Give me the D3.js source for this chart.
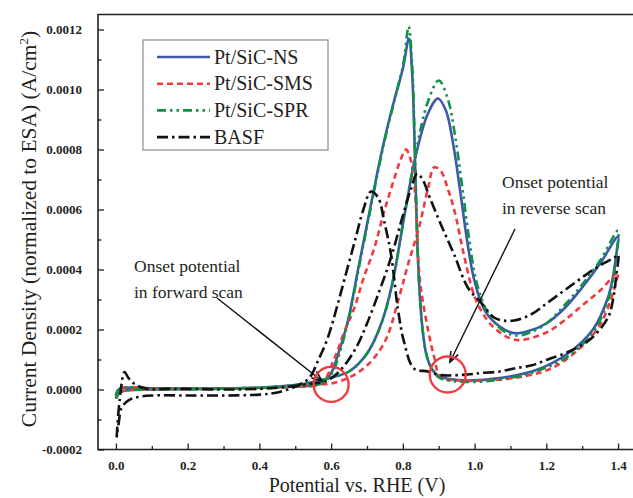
<!DOCTYPE html>
<html>
<head>
<meta charset="utf-8">
<script src="https://cdn.jsdelivr.net/npm/d3@7"></script>
<style>
  body { margin: 0; background: #fff; }
</style>
</head>
<body>
<svg id="chart" width="633" height="498"></svg>
<script>
// cyclic voltammograms, forward scan (0 -> 1.4 V) then reverse scan (1.4 -> 0 V)
const seriesNames = ['Pt/SiC-NS', 'Pt/SiC-SMS', 'Pt/SiC-SPR', 'BASF'];

const nsForwardE = [0.0, 0.01, 0.1, 0.2, 0.3, 0.4, 0.45, 0.5, 0.55, 0.6, 0.65, 0.7, 0.74, 0.77, 0.8, 0.836, 0.87, 0.898, 0.92, 0.94, 0.96, 0.98, 1.0, 1.03, 1.07, 1.11, 1.15, 1.2, 1.25, 1.3, 1.35, 1.4];
const nsForwardJ = [-0.00002, 0.000002, 0.000004, 0.000003, 0.000003, 0.000006, 0.00001, 0.000015, 0.000025, 0.00004, 0.00006, 0.00012, 0.00022, 0.00035, 0.00055, 0.00078, 0.00092, 0.00097, 0.00093, 0.00082, 0.00066, 0.00049, 0.00036, 0.00026, 0.00021, 0.000188, 0.000195, 0.00022, 0.00027, 0.00034, 0.00042, 0.00051];
const nsReverseE = [1.395, 1.385, 1.37, 1.33, 1.26, 1.17, 1.07, 0.98, 0.93, 0.9, 0.88, 0.865, 0.855, 0.845, 0.838, 0.832, 0.826, 0.817, 0.8, 0.775, 0.75, 0.73, 0.7, 0.675, 0.647, 0.62, 0.6, 0.57, 0.5, 0.4, 0.3, 0.2, 0.1, 0.03, 0.01, 0.0];
const nsReverseJ = [0.00045, 0.00037, 0.0003, 0.0002, 0.00012, 0.000064, 0.000038, 0.00003, 0.000035, 0.000045, 0.00007, 0.00012, 0.0002, 0.00036, 0.00058, 0.00085, 0.00105, 0.00117, 0.00107, 0.00096, 0.00084, 0.00073, 0.00055, 0.0004, 0.00023, 0.00012, 0.000055, 0.00002, 0.00001, 0.000006, 0.000003, 0.000001, 0.0, -0.000003, -0.00001, -0.00003];

const smsForwardE = [0.0, 0.01, 0.1, 0.2, 0.3, 0.4, 0.5, 0.55, 0.6, 0.65, 0.7, 0.75, 0.79, 0.815, 0.845, 0.87, 0.887, 0.905, 0.925, 0.945, 0.97, 1.0, 1.03, 1.06, 1.1, 1.13, 1.2, 1.25, 1.3, 1.35, 1.4];
const smsForwardJ = [-0.00002, 0.000002, 0.000004, 0.000003, 0.000003, 0.000005, 0.00001, 0.000015, 0.00002, 0.00004, 0.00008, 0.00016, 0.00031, 0.00042, 0.00054, 0.00067, 0.00074, 0.00073, 0.00067, 0.00059, 0.00045, 0.00031, 0.00024, 0.0002, 0.00017, 0.000165, 0.00019, 0.00023, 0.00028, 0.00033, 0.00039];
const smsReverseE = [1.395, 1.388, 1.352, 1.296, 1.213, 1.12, 1.026, 0.962, 0.906, 0.887, 0.87, 0.85, 0.842, 0.836, 0.823, 0.809, 0.795, 0.77, 0.747, 0.72, 0.69, 0.664, 0.636, 0.608, 0.572, 0.5, 0.4, 0.3, 0.2, 0.1, 0.03, 0.01, 0.0];
const smsReverseJ = [0.00036, 0.00033, 0.00022, 0.00014, 0.00007, 0.00004, 0.00003, 0.00003, 0.00004, 0.00011, 0.0002, 0.00034, 0.00045, 0.00062, 0.00076, 0.0008, 0.00077, 0.00068, 0.00059, 0.00047, 0.00037, 0.00027, 0.00019, 0.0001, 0.00002, 0.00001, 0.000006, 0.000003, 0.000001, 0.0, -0.000003, -0.00001, -0.00003];

const sprForwardE = [0.0, 0.01, 0.1, 0.2, 0.3, 0.4, 0.45, 0.5, 0.55, 0.6, 0.65, 0.7, 0.74, 0.77, 0.8, 0.836, 0.87, 0.9, 0.925, 0.945, 0.965, 0.985, 1.005, 1.035, 1.075, 1.115, 1.155, 1.2, 1.25, 1.3, 1.35, 1.4];
const sprForwardJ = [-0.00002, 0.000002, 0.000004, 0.000003, 0.000003, 0.000006, 0.00001, 0.000015, 0.000025, 0.00004, 0.00006, 0.00012, 0.00022, 0.00035, 0.00055, 0.00079, 0.00096, 0.00103, 0.00097, 0.00085, 0.00068, 0.0005, 0.00036, 0.00026, 0.0002, 0.00018, 0.00019, 0.00022, 0.00028, 0.00035, 0.00043, 0.00053];
const sprReverseE = [1.395, 1.385, 1.37, 1.33, 1.26, 1.17, 1.07, 0.98, 0.93, 0.9, 0.88, 0.865, 0.855, 0.845, 0.838, 0.832, 0.826, 0.816, 0.802, 0.778, 0.753, 0.733, 0.703, 0.678, 0.65, 0.623, 0.603, 0.572, 0.5, 0.4, 0.3, 0.2, 0.1, 0.03, 0.01, 0.0];
const sprReverseJ = [0.00045, 0.00036, 0.00029, 0.00019, 0.00011, 0.00006, 0.000033, 0.000025, 0.00003, 0.00004, 0.00007, 0.00012, 0.0002, 0.00036, 0.00059, 0.00087, 0.00108, 0.00121, 0.00109, 0.00097, 0.00085, 0.00074, 0.00056, 0.00041, 0.00024, 0.00012, 0.000055, 0.00002, 0.00001, 0.000006, 0.000003, 0.000001, 0.0, -0.000003, -0.00001, -0.00003];

const basfForwardE = [0.002, 0.01, 0.024, 0.034, 0.05, 0.08, 0.15, 0.2, 0.3, 0.4, 0.45, 0.5, 0.55, 0.59, 0.63, 0.67, 0.7, 0.735, 0.767, 0.8, 0.823, 0.84, 0.855, 0.875, 0.906, 0.943, 0.981, 1.018, 1.054, 1.08, 1.11, 1.157, 1.204, 1.25, 1.296, 1.344, 1.39, 1.4];
const basfForwardJ = [-0.00016, -0.00004, 0.000058, 0.00004, 0.00002, 0.000004, 0.000002, 0.000002, 0.0, 0.000002, 0.000006, 0.000012, 0.00002, 0.00003, 0.00007, 0.00014, 0.00022, 0.00033, 0.00044, 0.00058, 0.00067, 0.00072, 0.0007, 0.00064, 0.00055, 0.00045, 0.00034, 0.00029, 0.00024, 0.00023, 0.00023, 0.00025, 0.00029, 0.00033, 0.00037, 0.00041, 0.00044, 0.00045];
const basfReverseE = [1.395, 1.386, 1.372, 1.325, 1.27, 1.204, 1.157, 1.11, 1.07, 1.018, 0.98, 0.906, 0.87, 0.831, 0.803, 0.786, 0.767, 0.748, 0.731, 0.711, 0.69, 0.665, 0.64, 0.615, 0.59, 0.565, 0.54, 0.51, 0.45, 0.4, 0.3, 0.2, 0.1, 0.062, 0.035, 0.016, 0.008, 0.002];
const basfReverseJ = [0.00038, 0.0003, 0.00024, 0.00017, 0.00013, 0.0001, 0.00008, 0.00007, 0.00006, 0.000055, 0.00005, 0.000048, 0.00006, 0.00007, 0.00016, 0.00027, 0.00045, 0.00056, 0.00064, 0.00066, 0.0006, 0.00049, 0.00038, 0.00027, 0.00017, 0.0001, 0.00004, 0.000015, -0.00001, -0.000017, -0.00002, -0.00002, -0.00002, -0.000025, -0.000036, -0.00006, -0.00011, -0.00016];

const xTicks = [0.0, 0.2, 0.4, 0.6, 0.8, 1.0, 1.2, 1.4];
const xMinorTicks = [0.1, 0.3, 0.5, 0.7, 0.9, 1.1, 1.3];
const yTicks = [-0.0002, 0.0, 0.0002, 0.0004, 0.0006, 0.0008, 0.0010, 0.0012];
const yMinorTicks = [-0.0001, 0.0001, 0.0003, 0.0005, 0.0007, 0.0009, 0.0011];

const INK = '#231f20';

const toPoints = (e, j) => e.map((v, i) => [v, j[i]]);

const series = [
  {name: seriesNames[0], color: '#3d58a8', dash: null,
   pts: toPoints(nsForwardE, nsForwardJ).concat(toPoints(nsReverseE, nsReverseJ))},
  {name: seriesNames[1], color: '#ef3b3f', dash: '6,4',
   pts: toPoints(smsForwardE, smsForwardJ).concat(toPoints(smsReverseE, smsReverseJ))},
  {name: seriesNames[2], color: '#0f9148', dash: '9,4,2.5,4,2.5,4',
   pts: toPoints(sprForwardE, sprForwardJ).concat(toPoints(sprReverseE, sprReverseJ))},
  {name: seriesNames[3], color: '#111111', dash: '11,4,2.5,4',
   pts: toPoints(basfForwardE, basfForwardJ).concat(toPoints(basfReverseE, basfReverseJ))}
];

// text helper: serif face set directly on every label
const serifText = (sel, size, weight) => sel
  .attr('fill', INK)
  .style('font-family', '"Liberation Serif", monospace')
  .style('font-size', size + 'px')
  .style('font-weight', weight || 'normal');

const svg = d3.select('#chart');
const plotLeft = 98, plotRight = 636, plotTop = 14.5, plotBottom = 449.5;

const x = d3.scaleLinear().domain([-0.05, 1.45]).range([plotLeft, plotRight]);
const y = d3.scaleLinear().domain([-0.0002, 0.00125]).range([plotBottom, plotTop]);

// curves
const line = d3.line()
  .x(d => x(d[0]))
  .y(d => y(d[1]))
  .curve(d3.curveCatmullRom.alpha(0.5));

const plot = svg.append('g');
plot.selectAll('path.curve')
  .data(series)
  .join('path')
  .attr('class', 'curve')
  .attr('d', d => line(d.pts))
  .attr('fill', 'none')
  .attr('stroke', d => d.color)
  .attr('stroke-width', 2.6)
  .attr('stroke-dasharray', d => d.dash)
  .attr('stroke-linejoin', 'round');

// axes, ticks point inward
const xAxisG = svg.append('g')
  .attr('transform', `translate(0,${plotBottom})`)
  .call(d3.axisBottom(x).tickValues(xTicks).tickSize(-6).tickPadding(11)
    .tickFormat(d => d.toFixed(1)));
svg.append('g')
  .attr('transform', `translate(0,${plotBottom})`)
  .call(d3.axisBottom(x).tickValues(xMinorTicks).tickSize(-3.5).tickFormat(''));

const yAxisG = svg.append('g')
  .attr('transform', `translate(${plotLeft},0)`)
  .call(d3.axisLeft(y).tickValues(yTicks).tickSize(-6).tickPadding(16)
    .tickFormat(d => d.toFixed(4)));
svg.append('g')
  .attr('transform', `translate(${plotLeft},0)`)
  .call(d3.axisLeft(y).tickValues(yMinorTicks).tickSize(-3.5).tickFormat(''));

svg.selectAll('.domain').remove();
svg.selectAll('.tick line').attr('stroke', INK).attr('stroke-width', 1.3);
svg.selectAll('g').attr('font-family', null);
serifText(xAxisG.selectAll('.tick text'), 13, 'bold');
serifText(yAxisG.selectAll('.tick text'), 13, 'bold');

// frame
svg.append('path')
  .attr('d', `M${plotRight},${plotTop}H${plotLeft}V${plotBottom}H${plotRight}`)
  .attr('fill', 'none')
  .attr('stroke', INK)
  .attr('stroke-width', 1.6);

// axis titles
svg.append('text')
  .attr('x', 357).attr('y', 492)
  .attr('text-anchor', 'middle')
  .call(serifText, 20)
  .text('Potential vs. RHE (V)');

const yTitle = svg.append('text')
  .attr('transform', 'translate(36,229) rotate(-90)')
  .attr('text-anchor', 'middle')
  .call(serifText, 21.5);
yTitle.append('tspan').text('Current Density (normalized to ESA) (A/cm');
yTitle.append('tspan').attr('dy', -8).style('font-size', '13px').text('2');
yTitle.append('tspan').attr('dy', 8).text(')');

// legend
const legend = svg.append('g');
legend.append('rect')
  .attr('x', 143).attr('y', 40).attr('width', 185).attr('height', 110)
  .attr('fill', '#fff').attr('stroke', '#8a8a8a').attr('stroke-width', 1.2);
const items = legend.selectAll('g.item')
  .data(series)
  .join('g')
  .attr('class', 'item')
  .attr('transform', (d, i) => `translate(0,${57 + i * 26.7})`);
items.append('line')
  .attr('x1', 157).attr('x2', 210)
  .attr('stroke', d => d.color)
  .attr('stroke-width', 2.6)
  .attr('stroke-dasharray', d => d.dash);
items.append('text')
  .attr('x', 214).attr('y', 6.5)
  .call(serifText, 20)
  .text(d => d.name);

// annotations
const note = svg.append('g');
const addLabel = (tx, ty, lines) => {
  lines.forEach((s, i) => {
    note.append('text')
      .attr('x', tx).attr('y', ty + i * 25.5)
      .call(serifText, 17.5)
      .text(s);
  });
};
addLabel(134, 272, ['Onset potential', 'in forward scan']);
addLabel(502, 188, ['Onset potential', 'in reverse scan']);

const arrow = (x1, y1, x2, y2) => {
  note.append('line')
    .attr('x1', x1).attr('y1', y1).attr('x2', x2).attr('y2', y2)
    .attr('stroke', '#111').attr('stroke-width', 1.4);
  const a = Math.atan2(y2 - y1, x2 - x1);
  const len = 11, spread = 0.38;
  const pts = [
    [x2 - len * Math.cos(a - spread), y2 - len * Math.sin(a - spread)],
    [x2, y2],
    [x2 - len * Math.cos(a + spread), y2 - len * Math.sin(a + spread)]
  ];
  note.append('path')
    .attr('d', d3.line()(pts))
    .attr('fill', 'none')
    .attr('stroke', '#111').attr('stroke-width', 1.6);
};
arrow(217, 298, 322, 381);
arrow(515, 229, 450, 362);

note.append('circle')
  .attr('cx', x(0.6)).attr('cy', y(0.000017)).attr('r', 17.5)
  .attr('fill', 'none').attr('stroke', '#ef3b3f').attr('stroke-width', 2.4);
note.append('circle')
  .attr('cx', x(0.925)).attr('cy', y(0.00005)).attr('r', 18)
  .attr('fill', 'none').attr('stroke', '#ef3b3f').attr('stroke-width', 2.4);
</script>
</body>
</html>
